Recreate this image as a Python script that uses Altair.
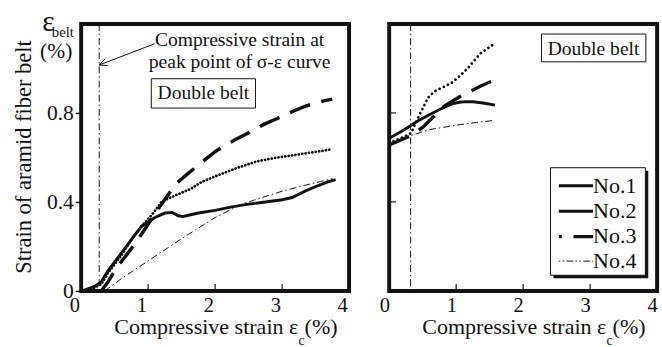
import math

import altair as alt
import pandas as pd

FONT = "'Liberation Serif', 'Times New Roman', 'DejaVu Serif', serif"
INK = "#111111"

SERIES = ["No.1", "No.2", "No.3", "No.4"]
X_TICKS = [0, 1, 2, 3, 4]
Y_TICKS = [0, 0.4, 0.8]

# ---- left panel: belt strain (%) against compressive strain (%) ----
left_no1_x = [0.02, 0.2, 0.3, 0.4, 0.5, 0.7, 0.9, 1.1, 1.25, 1.36, 1.45, 1.52, 1.6, 1.75, 2.0, 2.25, 2.5, 2.75, 3.0, 3.15, 3.35, 3.55, 3.7, 3.8]
left_no1_y = [0.0, 0.02, 0.04, 0.09, 0.13, 0.21, 0.29, 0.33, 0.35, 0.353, 0.338, 0.334, 0.34, 0.35, 0.362, 0.378, 0.39, 0.4, 0.41, 0.42, 0.45, 0.475, 0.492, 0.5]

left_no2_x = [0.1, 0.3, 0.4, 0.5, 0.6, 0.77, 0.9, 1.05, 1.2, 1.3, 1.45, 1.63, 1.8, 2.0, 2.3, 2.63, 2.9, 3.2, 3.5, 3.75]
left_no2_y = [0.0, 0.03, 0.08, 0.12, 0.16, 0.24, 0.29, 0.34, 0.4, 0.415, 0.435, 0.458, 0.49, 0.515, 0.55, 0.583, 0.598, 0.612, 0.625, 0.637]

left_no3_x = [0.3, 0.4, 0.48, 0.61, 0.8, 1.0, 1.19, 1.41, 1.58, 1.85, 2.02, 2.29, 2.48, 2.75, 2.92, 3.18, 3.36, 3.62, 3.75]
left_no3_y = [0.0, 0.04, 0.08, 0.136, 0.21, 0.3, 0.386, 0.48, 0.524, 0.59, 0.63, 0.678, 0.708, 0.752, 0.774, 0.81, 0.832, 0.854, 0.862]

left_no4_x = [0.35, 0.6, 1.0, 1.5, 2.0, 2.4, 2.7, 3.0, 3.3, 3.55, 3.75]
left_no4_y = [0.0, 0.055, 0.135, 0.235, 0.33, 0.39, 0.42, 0.448, 0.472, 0.49, 0.505]

left_peak_strain = 0.27

# ---- right panel ----
right_no1_x = [0.0, 0.2, 0.44, 0.65, 0.85, 0.95, 1.05, 1.15, 1.25, 1.4, 1.58]
right_no1_y = [0.686, 0.72, 0.766, 0.8, 0.83, 0.842, 0.848, 0.851, 0.85, 0.845, 0.835]

right_no2_x = [0.0, 0.2, 0.33, 0.39, 0.46, 0.58, 0.68, 0.8, 0.93, 1.05, 1.17, 1.36, 1.53, 1.58]
right_no2_y = [0.665, 0.69, 0.71, 0.752, 0.796, 0.869, 0.898, 0.915, 0.935, 0.965, 1.0, 1.067, 1.103, 1.11]

right_no3_x = [0.0, 0.34, 0.5, 0.63, 0.83, 1.07, 1.36, 1.55]
right_no3_y = [0.656, 0.7, 0.735, 0.774, 0.832, 0.876, 0.92, 0.945]

right_no4_x = [0.0, 0.34, 0.6, 1.0, 1.3, 1.55]
right_no4_y = [0.66, 0.7, 0.725, 0.745, 0.757, 0.766]

right_peak_strain = 0.32

W, H = 274, 273


def line_style(name, dot_gap):
    styles = {
        "No.1": dict(strokeWidth=3),
        "No.2": dict(strokeWidth=2.8, strokeDash=[0.1, dot_gap], strokeCap="round"),
        "No.3": dict(strokeWidth=3.5, strokeDash=[22, 12]),
        "No.4": dict(strokeWidth=1, strokeDash=[7, 3, 1.5, 3]),
    }
    return styles[name]


def one_row(**kw):
    return pd.DataFrame({k: [v] for k, v in kw.items()}) if kw else pd.DataFrame({"k": [0]})


def text_layer(txt, x, y, size, align="center", baseline="alphabetic", angle=0):
    return alt.Chart(one_row(t=txt)).mark_text(
        font=FONT, fontSize=size, color=INK, align=align, baseline=baseline, angle=angle
    ).encode(text="t:N", x=alt.value(x), y=alt.value(y))


def rule_px(x1, y1, x2, y2, width=1.0):
    return alt.Chart(one_row()).mark_rule(color=INK, strokeWidth=width).encode(
        x=alt.value(x1), x2=alt.value(x2), y=alt.value(y1), y2=alt.value(y2)
    )


def rect_px(x1, y1, x2, y2, fill, stroke=None, width=1.0):
    kw = dict(fill=fill, strokeWidth=width)
    if stroke:
        kw["stroke"] = stroke
    return alt.Chart(one_row()).mark_rect(**kw).encode(
        x=alt.value(x1), x2=alt.value(x2), y=alt.value(y1), y2=alt.value(y2)
    )


def panel(curves, peak_strain, dot_gap, left_axis, label_shift, extras):
    rows = []
    for name, (xs, ys) in curves.items():
        for i, (xv, yv) in enumerate(zip(xs, ys)):
            rows.append({"series": name, "strain": xv, "belt": yv, "i": i})
    df = pd.DataFrame(rows)

    def xe():
        return alt.X(
            "strain:Q",
            scale=alt.Scale(domain=[0, 4], nice=False, zero=False),
            axis=alt.Axis(
                values=X_TICKS, ticks=False, domain=False, grid=False, title=None,
                labelFont=FONT, labelFontSize=21, labelColor=INK, labelPadding=4.5,
                labelOffset=label_shift, labelFlush=False, labelOverlap=False, format="d",
            ),
        )

    def ye():
        if left_axis:
            axis = alt.Axis(
                values=Y_TICKS, tickSize=6, tickWidth=1.5, tickColor=INK, domain=False,
                grid=False, title=None, labelFont=FONT, labelFontSize=22, labelColor=INK,
                labelPadding=2, labelFlush=False, labelOverlap=False, format="~f",
            )
        else:
            axis = None
        return alt.Y("belt:Q", scale=alt.Scale(domain=[0, 1.2], nice=False, zero=False), axis=axis)

    layers = []
    # peak-strain marker
    layers.append(
        alt.Chart(pd.DataFrame({"strain": [peak_strain]}))
        .mark_rule(color=INK, strokeWidth=1, strokeDash=[7, 3, 1.5, 3])
        .encode(x=xe())
    )
    for name in SERIES:
        layers.append(
            alt.Chart(df)
            .transform_filter(alt.datum.series == name)
            .mark_line(color=INK, **line_style(name, dot_gap))
            .encode(x=xe(), y=ye(), order="i:Q")
        )
    # inward ticks along the bottom edge
    layers.append(
        alt.Chart(pd.DataFrame({"strain": X_TICKS[1:-1]}))
        .mark_rule(color=INK, strokeWidth=1.2)
        .encode(x=xe(), y=alt.value(H - 7), y2=alt.value(H))
    )
    if not left_axis:
        layers.append(
            alt.Chart(pd.DataFrame({"belt": Y_TICKS[1:]}))
            .mark_rule(color=INK, strokeWidth=1.2)
            .encode(y=ye(), x=alt.value(0), x2=alt.value(7))
        )
    # x title with subscript
    layers.append(text_layer("Compressive strain ε", 222, 317, 22.5, align="right"))
    layers.append(text_layer("(%)", 228.5, 317, 22.5, align="left"))
    layers.append(text_layer("c", 225.3, 328.5, 14, align="center"))
    layers += extras
    return alt.layer(*layers).properties(width=W, height=H)


# left-panel annotations
ax0, ay0, ax1, ay1 = 75.0, 20.3, 18.3, 42.0
ang = math.atan2(ay0 - ay1, ax0 - ax1)
arrow = [rule_px(ax0, ay0, ax1, ay1, 1.0)]
for s in (0.42, -0.42):
    arrow.append(rule_px(ax1, ay1, ax1 + 9 * math.cos(ang + s), ay1 + 9 * math.sin(ang + s), 1.0))

left_extras = [
    text_layer("Strain of aramid fiber belt", -51.5, 136, 23, angle=270),
    text_layer("ε", -33.5, 7, 30),
    text_layer("belt", -30, 13.5, 15, align="left"),
    text_layer("(%)", -25.5, 35, 22),
    text_layer("Compressive strain at", 162, 22.7, 20),
    text_layer("peak point of σ-ε curve", 162, 45.3, 20),
    rect_px(71.7, 56, 178.3, 86, "white", INK, 1),
    text_layer("Double belt", 125, 77, 20),
] + arrow

# right-panel annotations and legend
leg_x0, leg_y0, leg_x1, leg_y1 = 165, 147, 262, 257
row_y = [165.5, 191.5, 217.5, 242.5]
right_extras = [
    rect_px(155.8, 10.3, 262.5, 38.7, "white", INK, 1),
    text_layer("Double belt", 209, 31.3, 20),
    rect_px(leg_x0 + 3, leg_y0 + 3, leg_x1 + 3, leg_y1 + 3, INK),
    rect_px(leg_x0, leg_y0, leg_x1, leg_y1, "white", INK, 1),
]
legend_dash = {
    "No.1": dict(strokeWidth=3),
    "No.2": dict(strokeWidth=3),
    "No.3": dict(strokeWidth=3.5, strokeDash=[22, 12], strokeDashOffset=19),
    "No.4": dict(strokeWidth=1, strokeDash=[1.5, 2.5, 1.5, 2.5, 7, 2]),
}
for name, yy in zip(SERIES, row_y):
    right_extras.append(
        alt.Chart(one_row()).mark_rule(color=INK, **legend_dash[name]).encode(
            x=alt.value(173.5), x2=alt.value(208.5), y=alt.value(yy), y2=alt.value(yy)
        )
    )
    right_extras.append(text_layer(name, 208.5, yy, 22.5, align="left", baseline="middle"))

left = panel(
    {"No.1": (left_no1_x, left_no1_y), "No.2": (left_no2_x, left_no2_y),
     "No.3": (left_no3_x, left_no3_y), "No.4": (left_no4_x, left_no4_y)},
    left_peak_strain, 3.4, True, -7, left_extras,
)
right = panel(
    {"No.1": (right_no1_x, right_no1_y), "No.2": (right_no2_x, right_no2_y),
     "No.3": (right_no3_x, right_no3_y), "No.4": (right_no4_x, right_no4_y)},
    right_peak_strain, 4.6, False, -5, right_extras,
)

chart = (
    alt.hconcat(left, right, spacing=26)
    .configure_view(stroke=INK, strokeWidth=4)
    .properties(padding={"left": 11, "top": 1.5, "right": 2, "bottom": 0}, background="white")
)

chart.save("out.html", embed_options={"renderer": "svg", "actions": False})
